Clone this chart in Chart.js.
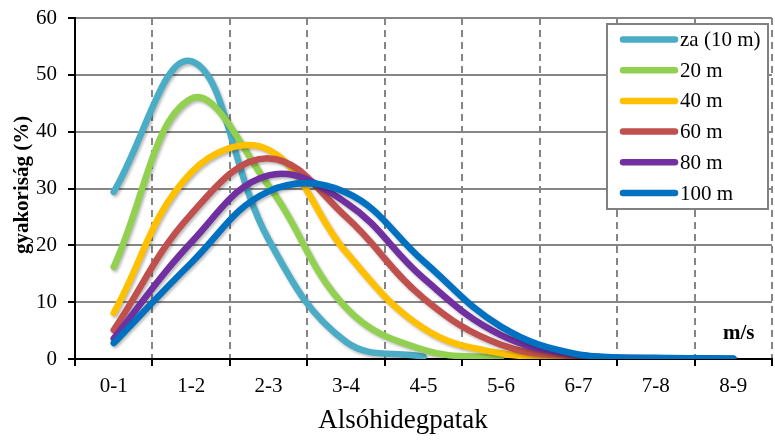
<!DOCTYPE html>
<html>
<head>
<meta charset="utf-8">
<script src="https://cdn.jsdelivr.net/npm/chart.js@4.4.1/dist/chart.umd.min.js"></script>
<style>
  body { margin: 0; background: #fff; }
  #wrap { width: 775px; height: 442px; position: relative; }
</style>
</head>
<body>
<div id="wrap"><canvas id="chart"></canvas></div>
<script>
// categories (wind speed classes) and the frequency of each height
var categories = ['0-1', '1-2', '2-3', '3-4', '4-5', '5-6', '6-7', '7-8', '8-9'];
var yTicks = [0, 10, 20, 30, 40, 50, 60];
var za10 = [29.4, 52.4, 21, 3, 0.4];
var m20 = [16.2, 45.8, 30.5, 9, 1.6, 0.2];
var m40 = [8.1, 32.8, 36.8, 18.8, 5.4, 1.0, 0.2];
var m60 = [5.1, 25.5, 35.3, 25, 10.7, 2.5, 0.4, 0.1, 0];
var m80 = [3.6, 20.5, 32.3, 27.5, 14.2, 4.2, 0.7, 0.1, 0];
var m100 = [2.8, 16.9, 29.5, 29.3, 17.2, 5.7, 0.8, 0.2, 0.1];
var seriesNames = ['za (10 m)', '20 m', '40 m', '60 m', '80 m', '100 m'];
var seriesColors = ['#4BACC6', '#92D050', '#FFC000', '#C0504D', '#7030A0', '#0070C0'];

var xTitle = 'Alsóhidegpatak';
var yTitle = 'gyakoriság (%)';
var unitText = 'm/s';
var serif = '"Liberation Serif", "Times New Roman", serif';

var allData = [za10, m20, m40, m60, m80, m100];
var datasets = allData.map(function(d, i) {
    return {
        label: seriesNames[i],
        data: d,
        borderColor: seriesColors[i],
        backgroundColor: seriesColors[i],
        borderWidth: 6.5,
        borderCapStyle: 'round',
        borderJoinStyle: 'round',
        pointRadius: 0,
        tension: 0.4,
        fill: false,
        order: 6 - i   // later series on top, like the original
    };
});

// soft shadow under the lines
var lineShadow = {
    id: 'lineShadow',
    beforeDatasetDraw: function(chart) {
        var ctx = chart.ctx;
        ctx.save();
        ctx.shadowColor = 'rgba(0,0,0,0.28)';
        ctx.shadowBlur = 3;
        ctx.shadowOffsetX = 1.5;
        ctx.shadowOffsetY = 2;
    },
    afterDatasetDraw: function(chart) {
        chart.ctx.restore();
    }
};

// axis titles, unit and the boxed legend inside the plot
var extras = {
    id: 'extras',
    afterDraw: function(chart) {
        var ctx = chart.ctx;
        ctx.save();
        ctx.fillStyle = '#000';

        ctx.save();
        ctx.translate(23, 185);
        ctx.rotate(-Math.PI / 2);
        ctx.font = 'bold 21px ' + serif;
        ctx.textAlign = 'center';
        ctx.textBaseline = 'middle';
        ctx.fillText(yTitle, 0, 0);
        ctx.restore();

        ctx.font = '27px ' + serif;
        ctx.textAlign = 'center';
        ctx.textBaseline = 'middle';
        ctx.fillText(xTitle, 403, 421);

        ctx.font = 'bold 21px ' + serif;
        ctx.textAlign = 'left';
        ctx.fillText(unitText, 723, 334);

        // legend
        ctx.fillStyle = '#fff';
        ctx.fillRect(607, 24, 161, 185);
        ctx.strokeStyle = '#808080';
        ctx.lineWidth = 2;
        ctx.strokeRect(607, 24, 161, 185);
        ctx.font = '21px ' + serif;
        ctx.textBaseline = 'middle';
        for (var i = 0; i < seriesNames.length; i++) {
            var y = 39.5 + i * 30.7;
            ctx.strokeStyle = seriesColors[i];
            ctx.lineWidth = 6.5;
            ctx.lineCap = 'round';
            ctx.beginPath();
            ctx.moveTo(623, y);
            ctx.lineTo(675, y);
            ctx.stroke();
            ctx.fillStyle = '#000';
            ctx.fillText(seriesNames[i], 680, y + 1);
        }
        ctx.restore();
    }
};

var ctx = document.getElementById('chart').getContext('2d');
var myChart = new Chart(ctx, {
    type: 'line',
    data: {
        labels: categories,
        datasets: datasets
    },
    options: {
        responsive: true,
        maintainAspectRatio: false,
        animation: false,
        layout: {
            padding: { left: 0, top: 18, right: 3, bottom: 0 }
        },
        plugins: {
            legend: { display: false },
            tooltip: { enabled: false }
        },
        scales: {
            x: {
                type: 'category',
                offset: true,
                afterFit: function(scale) {
                    scale.height = 83;
                    scale.paddingLeft = 0;
                    scale.paddingRight = 0;
                },
                grid: {
                    offset: true,
                    color: function(c) { return c.index === 0 ? 'rgba(0,0,0,0)' : '#868686'; },
                    lineWidth: 2,
                    tickLength: 7,
                    tickColor: '#000',
                    tickBorderDash: []
                },
                border: { display: true, color: '#000', width: 2, dash: [7, 5] },
                ticks: {
                    color: '#000',
                    font: { family: serif, size: 21 },
                    padding: 8,
                    maxRotation: 0
                }
            },
            y: {
                min: 0,
                max: 60,
                afterFit: function(scale) {
                    scale.width = 75;
                    scale.paddingTop = 0;
                    scale.paddingBottom = 0;
                },
                afterBuildTicks: function(scale) {
                    scale.ticks = yTicks.map(function(v) { return { value: v }; });
                },
                grid: {
                    color: function(c) { return c.index === 0 ? 'rgba(0,0,0,0)' : '#868686'; },
                    lineWidth: 2,
                    tickLength: 7,
                    tickColor: '#000'
                },
                border: { display: true, color: '#000', width: 2 },
                ticks: {
                    color: '#000',
                    font: { family: serif, size: 21 },
                    padding: 11
                }
            }
        }
    },
    plugins: [lineShadow, extras]
});
</script>
</body>
</html>
